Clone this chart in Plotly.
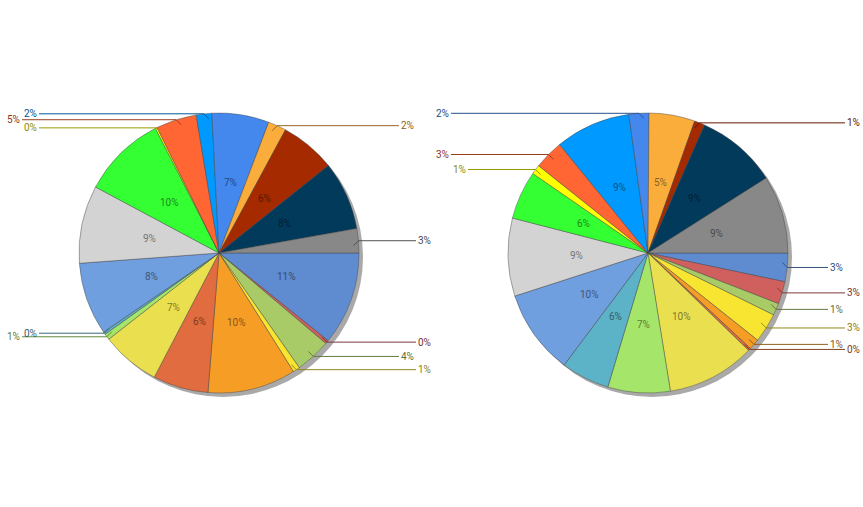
import math
import plotly.graph_objects as go

W, H = 863, 507

categories = [f"Point {i}" for i in range(1, 21)]
colors = ["#5F8BD0", "#D0605E", "#A8CB68", "#F8E531", "#F59D25",
          "#E06C3F", "#EAE04F", "#A5E66A", "#5CB2C6", "#709FE0",
          "#D3D3D3", "#33FF33", "#FFFF00", "#FF6633", "#0099FF",
          "#4488EE", "#FBAD3C", "#A52A00", "#023A5C", "#888888"]
left_values = [10.8, 0.4, 4.1, 0.8, 10.2, 6.4, 6.8, 0.7, 0.3, 8.4,
               9.0, 9.7, 0.2, 4.7, 1.8, 6.6, 2.1, 6.4, 7.95, 2.8]
right_values = [3.3, 2.6, 1.4, 3.4, 1.25, 0.3, 10.2, 7.2, 5.6, 9.8,
                9.0, 5.6, 1.1, 3.4, 8.7, 2.3, 5.3, 1.2, 9.4, 9.0]

FONT = "Roboto"
FSIZE = 10
R = 140
pies = [(left_values, 219, 253), (right_values, 648, 253)]


def darken(hexc, f=0.55):
    h = hexc.lstrip("#")
    r, g, b = (int(h[i:i + 2], 16) for i in (0, 2, 4))
    return f"rgb({int(r * f)},{int(g * f)},{int(b * f)})"


def px(x):
    return x / W


def py(y):
    return 1 - y / H


fig = go.Figure()
shapes = []
annotations = []

# shadows
for vals, cx, cy in pies:
    sx, sy = 4, 4
    fig.add_trace(go.Pie(
        values=[1], marker=dict(colors=["#a9a9a9"], line=dict(width=0)),
        domain=dict(x=[px(cx - R + sx), px(cx + R + sx)],
                    y=[py(cy + R + sy), py(cy - R + sy)]),
        textinfo="none", hoverinfo="skip", sort=False, showlegend=False))

for vals, cx, cy in pies:
    fig.add_trace(go.Pie(
        labels=categories, values=vals,
        marker=dict(colors=colors, line=dict(color="rgba(70,70,70,0.55)", width=0.8)),
        domain=dict(x=[px(cx - R), px(cx + R)], y=[py(cy + R), py(cy - R)]),
        rotation=90, direction="clockwise", sort=False,
        textinfo="none", hoverinfo="label+percent", showlegend=False))

    total = sum(vals)
    cum = 0.0
    for i, v in enumerate(vals):
        frac = v / total
        mid = (cum + frac / 2) * 2 * math.pi
        cum += frac
        pct = int(frac * 100 + 0.5)
        dx, dy = math.cos(mid), math.sin(mid)
        dark = darken(colors[i])
        if frac * 100 >= 5:
            annotations.append(dict(
                x=px(cx + 0.51 * R * dx), y=py(cy + 0.51 * R * dy),
                xref="paper", yref="paper", text=f"{pct}%", showarrow=False,
                font=dict(family=FONT, size=FSIZE, color=dark),
                xanchor="center", yanchor="middle"))
        else:
            ex, ey = cx + R * dx, cy + R * dy
            outer = (i % 2 == 1)
            gap = 58 if outer else 41
            lc = darken(colors[i], 0.6)
            if dx >= 0:
                tx = cx + R + gap
                x0, x1 = ex, tx - 1
                xa = "left"
            else:
                tx = cx - R - gap
                x0, x1 = tx + 1, ex
                xa = "right"
            shapes.append(dict(type="line", xref="paper", yref="paper",
                               x0=px(x0), x1=px(x1), y0=py(ey), y1=py(ey),
                               line=dict(color=lc, width=1)))
            sgx = 1 if cx > ex else -1
            sgy = 1 if cy > ey else -1
            shapes.append(dict(type="line", xref="paper", yref="paper",
                               x0=px(ex), x1=px(ex + 5 * sgx),
                               y0=py(ey), y1=py(ey + 5 * sgy),
                               line=dict(color=lc, width=1)))
            annotations.append(dict(
                x=px(tx), y=py(ey), xref="paper", yref="paper",
                text=f"{pct}%", showarrow=False,
                font=dict(family=FONT, size=FSIZE, color=dark),
                xanchor=xa, yanchor="middle", borderpad=0))

fig.update_layout(
    width=W, height=H, margin=dict(l=0, r=0, t=0, b=0),
    paper_bgcolor="white", plot_bgcolor="white",
    shapes=shapes, annotations=annotations, showlegend=False)

fig.write_html("out.html", config={"displayModeBar": False},
               post_script="document.body.style.margin='0';")
